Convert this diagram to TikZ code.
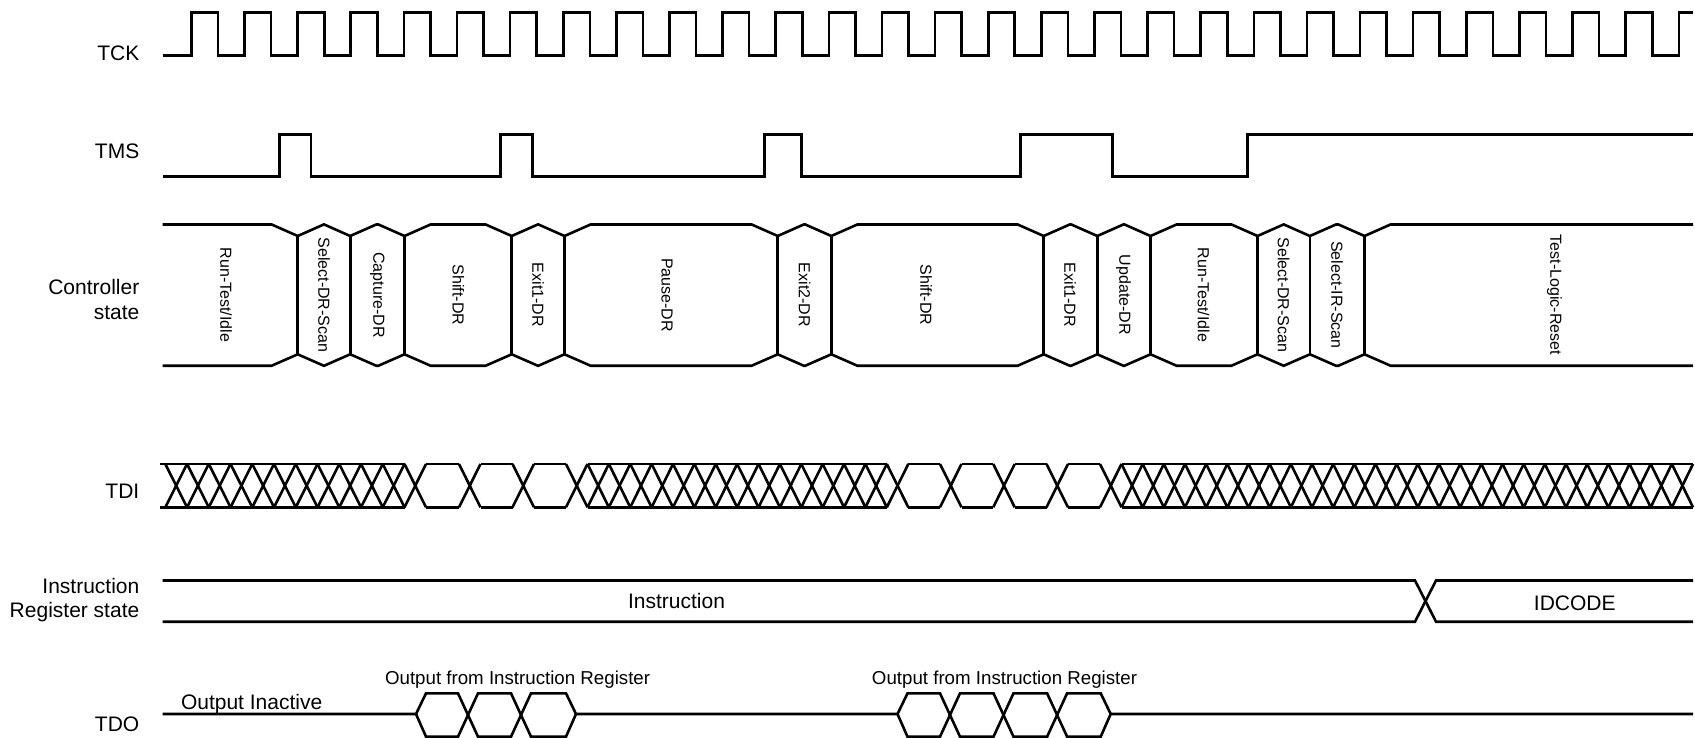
\documentclass[tikz,border=0pt]{standalone}
\usepackage{fontspec}
\setmainfont{Liberation Sans}
\begin{document}
\begin{tikzpicture}[x=1pt,y=1pt,
  sig/.style={line width=2.6pt, line join=miter, line cap=butt},
  lab/.style={font=\fontsize{21}{25}\selectfont, inner sep=0pt},
  stlab/.style={font=\fontsize{16}{19}\selectfont, rotate=-90, inner sep=0pt},
  outlab/.style={font=\fontsize{18.7}{22}\selectfont, inner sep=0pt}]
\useasboundingbox (0,0) rectangle (1695,-738);

% ---- signal labels
\node[lab, anchor=base east] (lTCK) at (139.5,-61) {TCK};
\node[lab, anchor=base east] (lTMS) at (139.5,-158.3) {TMS};
\node[lab, anchor=base east] (lCS1) at (139.5,-294.3) {Controller};
\node[lab, anchor=base east] (lCS2) at (139.5,-319) {state};
\node[lab, anchor=base east] (lTDI) at (139.5,-498.3) {TDI};
\node[lab, anchor=base east] (lIR1) at (139.5,-593.3) {Instruction};
\node[lab, anchor=base east] (lIR2) at (139.5,-617.3) {Register state};
\node[lab, anchor=base east] (lTDO) at (139.5,-731.5) {TDO};

% ---- TCK
\draw[sig] (162.5,-55.7) foreach \k in {0,...,27}{
   -- ({191.4+53.12*\k},-55.7) -- ({191.4+53.12*\k},-12.7)
   -- ({217.96+53.12*\k},-12.7) -- ({217.96+53.12*\k},-55.7) }
   -- (1678.8,-55.7) -- (1678.8,-12.7) -- (1693,-12.7);

% ---- TMS
\draw[sig] (162.5,-176.7) -- (279.4,-176.7) -- (279.4,-134.3) -- (310.8,-134.3)
  -- (310.8,-176.7) -- (500.6,-176.7) -- (500.6,-134.3) -- (532.7,-134.3)
  -- (532.7,-176.7) -- (764.3,-176.7) -- (764.3,-134.3) -- (801.4,-134.3)
  -- (801.4,-176.7) -- (1020.7,-176.7) -- (1020.7,-134.3) -- (1112.3,-134.3)
  -- (1112.3,-176.7) -- (1247.2,-176.7) -- (1247.2,-134.3) -- (1693,-134.3);

% ---- Controller state bus
\draw[sig] (162.5,-224.5) foreach \b in {297.7,350.2,404.5,511.7,564.5,777.7,831.3,1043.7,1097.3,1150.5,1257.5,1309.9,1364.5}{
   -- ({\b-26},-224.5) -- (\b,-236) -- ({\b+26},-224.5) } -- (1693,-224.5);
\draw[sig] (162.5,-365.7) foreach \b in {297.7,350.2,404.5,511.7,564.5,777.7,831.3,1043.7,1097.3,1150.5,1257.5,1309.9,1364.5}{
   -- ({\b-26},-365.7) -- (\b,-354.3) -- ({\b+26},-365.7) } -- (1693,-365.7);
\foreach \b in {297.7,350.2,404.5,511.7,564.5,777.7,831.3,1043.7,1097.3,1150.5,1257.5,1309.9,1364.5}
   \draw[sig] (\b,-236) -- (\b,-354.3);

\node[stlab] (s1) at (226,-295) {Run-Test/Idle};
\node[stlab] (s2) at (324.2,-295) {Select-DR-Scan};
\node[stlab] (s3) at (377.4,-295) {Capture-DR};
\node[stlab] (s4) at (458.3,-295) {Shift-DR};
\node[stlab] (s5) at (538.1,-295) {Exit1-DR};
\node[stlab] (s6) at (667,-295) {Pause-DR};
\node[stlab] (s7) at (804.5,-295) {Exit2-DR};
\node[stlab] (s8) at (926,-295) {Shift-DR};
\node[stlab] (s9) at (1070,-295) {Exit1-DR};
\node[stlab] (s10) at (1123.5,-295) {Update-DR};
\node[stlab] (s11) at (1203.5,-295) {Run-Test/Idle};
\node[stlab] (s12) at (1283.7,-295) {Select-DR-Scan};
\node[stlab] (s13) at (1337,-295) {Select-IR-Scan};
\node[stlab] (s14) at (1554.5,-295) {Test-Logic-Reset};

% ---- TDI
\foreach \a/\c in {159.6/404.5, 426/459, 480.5/512.5, 534/566, 587.5/886.8, 908.3/940, 961.5/993.2, 1014.7/1046.5, 1068/1100, 1121.5/1693}{
  \draw[sig] (\a,-464) -- (\c,-464);
  \draw[sig] (\a,-507.3) -- (\c,-507.3);
}
\foreach \s in {404.5,459,512.5,566,886.8,940,993.2,1046.5,1100}{
  \draw[sig] (\s,-464) -- ({\s+21.5},-507.3);
  \draw[sig] (\s,-507.3) -- ({\s+21.5},-464);
}
\foreach \xa/\w/\n in {165.3/21.745/10, 587.5/21.379/13, 1121.5/21.167/26}{
  \foreach \i in {0,...,\n}{
    \draw[sig] ({\xa+\i*\w},-464) -- ({\xa+(\i+1)*\w},-507.3);
    \draw[sig] ({\xa+\i*\w},-507.3) -- ({\xa+(\i+1)*\w},-464);
  }
}

% ---- Instruction register state
\draw[sig] (162.5,-580.5) -- (1415,-580.5) -- (1436,-621.7) -- (1693,-621.7);
\draw[sig] (162.5,-621.7) -- (1415,-621.7) -- (1436,-580.5) -- (1693,-580.5);
\node[lab, anchor=base] (vInstr) at (676.5,-608.3) {Instruction};
\node[lab, anchor=base] (vId) at (1574.8,-610.7) {IDCODE};

% ---- TDO
\draw[sig] (162.5,-714) -- (416,-714) -- (426,-693.3) -- (458,-693.3) -- (478,-736.7)
  -- (511,-736.7) -- (531,-693.3) -- (566,-693.3) -- (576,-714) -- (897.5,-714)
  -- (907.5,-693.3) -- (940,-693.3) -- (960,-736.7) -- (993.5,-736.7)
  -- (1013.5,-693.3) -- (1047.1,-693.3) -- (1067.1,-736.7) -- (1100.7,-736.7)
  -- (1110.7,-714) -- (1693,-714);
\draw[sig] (416,-714) -- (426,-736.7) -- (458,-736.7) -- (478,-693.3)
  -- (511,-693.3) -- (531,-736.7) -- (566,-736.7) -- (576,-714);
\draw[sig] (897.5,-714) -- (907.5,-736.7) -- (940,-736.7) -- (960,-693.3)
  -- (993.5,-693.3) -- (1013.5,-736.7) -- (1047.1,-736.7) -- (1067.1,-693.3)
  -- (1100.7,-693.3) -- (1110.7,-714);
\node[lab, anchor=base west] (oInact) at (180.8,-709.5) {Output Inactive};
\node[outlab, anchor=base] (oIR1) at (517.6,-684) {Output from Instruction Register};
\node[outlab, anchor=base] (oIR2) at (1004.5,-684) {Output from Instruction Register};
\end{tikzpicture}
\end{document}
